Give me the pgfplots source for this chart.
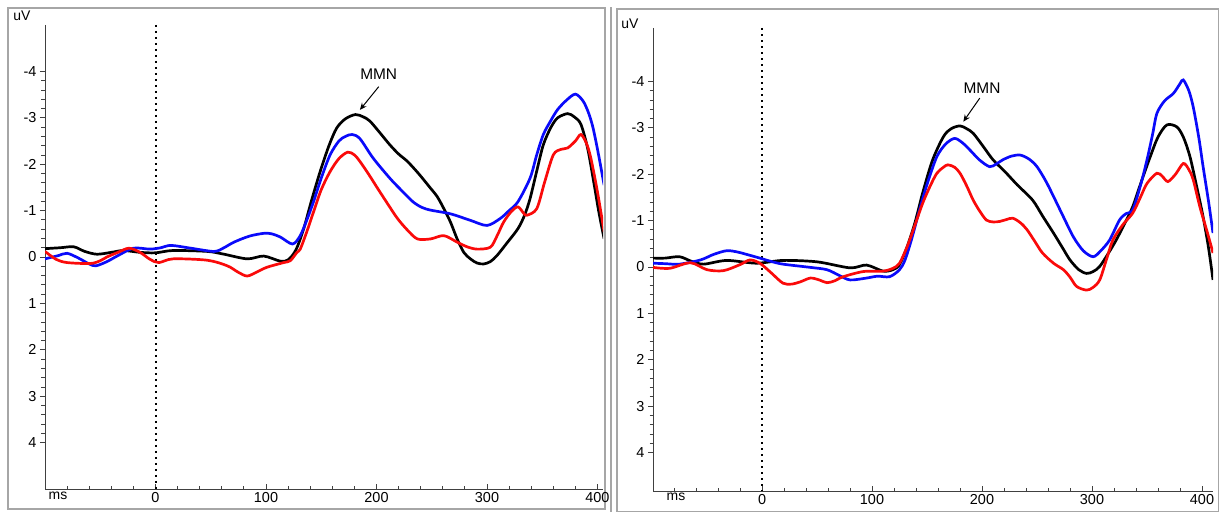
\documentclass[border=0pt]{standalone}
\usepackage{fontspec}
\setmainfont{Liberation Sans}
\usepackage{pgfplots}
\pgfplotsset{compat=1.18}
\usetikzlibrary{arrows.meta}
\definecolor{eegblue}{RGB}{10,10,250}
\definecolor{eegred}{RGB}{250,10,10}
\pgfplotsset{eeg/.style={
  scale only axis,
  axis x line=bottom, axis y line=left,
  axis line style={-, black!75, line width=0.9bp},
  y dir=reverse,
  ytick={-4,-3,...,4}, minor y tick num=4,
  xtick={0,100,200,300,400}, minor xtick={-80,-60,...,400},
  xtick align=inside, ytick align=outside,
  major tick length=5bp, minor tick length=3.5bp,
  every tick/.style={black!75, line width=0.8bp},
  tick label style={font=\fontsize{14.5}{14.5}\selectfont},
  /pgf/number format/assume math mode=true,
  clip=true,
  every axis plot/.append style={line width=2.7bp, smooth, no markers},
}}
\begin{document}
\begin{tikzpicture}
\path[use as bounding box] (0bp,0bp) rectangle (1219bp,512bp);
\draw[black!35, line width=1.2bp] (8bp,3bp) rectangle (605bp,504bp);
\draw[black!35, line width=1.2bp] (617bp,0.6bp) rectangle (1218.4bp,503bp);
\draw[black!35, line width=1.2bp] (611bp,0bp) -- (611bp,505bp);
\node[font=\fontsize{14}{14}\selectfont] at (22bp,496bp) {uV};
\node[font=\fontsize{14}{14}\selectfont] at (58bp,16bp) {ms};
\node[font=\fontsize{14}{14}\selectfont] at (630bp,488bp) {uV};
\node[font=\fontsize{14}{14}\selectfont] at (676bp,15bp) {ms};
% ---------------- left panel
\begin{axis}[eeg, at={(45bp,23bp)}, anchor=south west, width=558bp, height=464bp,
  xmin=-100, xmax=405, ymin=-5, ymax=5]
\draw[black, line width=1.9bp, dash pattern=on 1.9bp off 4.1bp] (axis cs:0.3,-5) -- (axis cs:0.3,5);
\addplot[black] coordinates {(-100,-0.18) (-86,-0.2) (-74,-0.22) (-64,-0.12) (-53,-0.06) (-40,-0.1) (-29,-0.14) (-14,-0.1) (0,-0.09) (16,-0.14) (47,-0.12) (62,-0.06) (83,0.04) (98,-0.02) (113,0.09) (120,0.06) (127,-0.15) (134,-0.6) (141,-1.2) (149,-1.84) (157,-2.4) (164,-2.78) (172,-2.98) (181,-3.07) (188,-3.02) (194,-2.93) (203,-2.68) (212,-2.42) (220,-2.22) (228,-2.06) (238,-1.8) (249,-1.48) (255,-1.3) (261,-1.04) (267,-0.75) (273,-0.39) (279,-0.1) (285,0.04) (291,0.13) (297,0.15) (303,0.1) (309,-0.03) (318,-0.3) (328,-0.61) (334,-0.9) (339,-1.26) (345,-1.85) (351,-2.42) (358,-2.8) (364,-3.0) (373,-3.09) (379,-3.02) (385,-2.86) (391,-2.35) (396,-1.7) (401,-1.0) (406,-0.39)};
\addplot[eegblue] coordinates {(-100,0.04) (-88,-0.03) (-80,-0.08) (-70,0.02) (-60,0.15) (-54,0.19) (-44,0.1) (-34,-0.03) (-20,-0.19) (-5,-0.17) (5,-0.2) (14,-0.25) (32,-0.19) (53,-0.12) (62,-0.2) (71,-0.32) (85,-0.45) (98,-0.51) (105,-0.5) (113,-0.43) (124,-0.28) (131,-0.46) (137,-0.8) (143,-1.19) (150,-1.7) (158,-2.2) (166,-2.5) (172,-2.6) (178,-2.64) (185,-2.55) (197,-2.13) (212,-1.7) (222,-1.45) (233,-1.19) (241,-1.07) (249,-1.01) (267,-0.93) (285,-0.79) (300,-0.68) (312,-0.83) (320,-1.0) (328,-1.19) (339,-1.7) (345,-2.2) (351,-2.64) (358,-2.95) (364,-3.18) (372,-3.38) (380,-3.51) (387,-3.36) (392,-3.1) (396,-2.78) (401,-2.2) (406,-1.55)};
\addplot[eegred] coordinates {(-100,-0.12) (-90,0.05) (-80,0.12) (-59,0.14) (-50,0.08) (-44,0.0) (-34,-0.1) (-24,-0.19) (-14,-0.1) (-5,0.05) (3,0.12) (16,0.04) (47,0.07) (65,0.19) (75,0.33) (83,0.41) (92,0.32) (101,0.22) (116,0.12) (122,0.08) (128,-0.1) (131,-0.17) (137,-0.55) (143,-0.97) (150,-1.45) (158,-1.84) (166,-2.12) (174,-2.26) (180,-2.2) (185,-2.06) (193,-1.78) (201,-1.48) (210,-1.15) (219,-0.83) (228,-0.58) (237,-0.39) (249,-0.39) (261,-0.46) (273,-0.32) (282,-0.22) (291,-0.17) (303,-0.21) (309,-0.45) (315,-0.75) (322,-0.98) (328,-1.08) (333,-0.95) (336,-0.9) (345,-1.04) (352,-1.6) (360,-2.2) (367,-2.32) (373,-2.35) (380,-2.5) (385,-2.64) (390,-2.45) (394,-2.13) (400,-1.4) (406,-0.54)};
\node[font=\fontsize{15.5}{15.5}\selectfont] at (axis cs:202,-3.93) {MMN};
\draw[-{Stealth[length=7bp,width=6bp]}, line width=1bp] (axis cs:202,-3.67) -- (axis cs:185,-3.17);
\end{axis}
% ---------------- right panel
\begin{axis}[eeg, at={(653bp,21bp)}, anchor=south west, width=560bp, height=463bp,
  xmin=-99.1, xmax=410, ymin=-5.15, ymax=4.83]
\draw[black, line width=1.9bp, dash pattern=on 1.9bp off 4.1bp] (axis cs:0,-5.15) -- (axis cs:0,4.83);
\addplot[black] coordinates {(-99,-0.19) (-88,-0.19) (-75,-0.22) (-64,-0.12) (-53,-0.06) (-32,-0.14) (-5,-0.08) (19,-0.14) (50,-0.11) (80,0.02) (95,-0.04) (110,0.09) (119,0.06) (125,-0.05) (132,-0.44) (139,-0.95) (146,-1.59) (155,-2.3) (165,-2.81) (172,-2.98) (180,-3.04) (186,-2.98) (192,-2.88) (201,-2.6) (210,-2.31) (221,-2.05) (232,-1.77) (246,-1.44) (255,-1.1) (265,-0.73) (273,-0.42) (280,-0.15) (288,0.06) (295,0.14) (301,0.1) (307,-0.01) (315,-0.3) (322,-0.58) (330,-0.95) (337,-1.3) (345,-1.85) (353,-2.38) (360,-2.8) (368,-3.06) (377,-3.02) (383,-2.8) (389,-2.38) (395,-1.75) (401,-1.08) (406,-0.4) (410,0.28)};
\addplot[eegblue] coordinates {(-99,-0.08) (-88,-0.07) (-75,-0.06) (-56,-0.15) (-44,-0.27) (-32,-0.35) (-22,-0.32) (-14,-0.27) (-2,-0.19) (8,-0.12) (19,-0.06) (44,0.01) (59,0.06) (70,0.18) (80,0.28) (95,0.24) (105,0.2) (116,0.21) (125,0.06) (130,-0.15) (136,-0.6) (144,-1.3) (151,-1.85) (159,-2.38) (167,-2.65) (175,-2.77) (182,-2.68) (189,-2.52) (198,-2.3) (207,-2.16) (213,-2.22) (219,-2.31) (227,-2.39) (235,-2.41) (243,-2.32) (250,-2.16) (258,-1.85) (265,-1.52) (274,-1.08) (283,-0.65) (292,-0.35) (301,-0.22) (308,-0.35) (316,-0.58) (325,-1.01) (331,-1.15) (337,-1.23) (344,-1.75) (350,-2.31) (355,-2.85) (359,-3.31) (366,-3.58) (374,-3.74) (380,-3.95) (383,-4.03) (388,-3.8) (392,-3.45) (397,-2.8) (401,-2.16) (406,-1.4) (410,-0.73)};
\addplot[eegred] coordinates {(-99,0.01) (-84,0.03) (-65,-0.09) (-50,0.06) (-35,0.08) (-20,-0.05) (-11,-0.15) (-2,-0.08) (8,0.12) (19,0.35) (27,0.37) (35,0.32) (44,0.24) (52,0.28) (59,0.34) (66,0.3) (74,0.21) (92,0.1) (110,0.09) (119,0.03) (125,-0.08) (132,-0.44) (139,-0.9) (146,-1.37) (153,-1.75) (159,-2.02) (165,-2.15) (169,-2.2) (175,-2.15) (180,-2.02) (186,-1.75) (192,-1.44) (198,-1.2) (204,-1.01) (210,-0.97) (216,-0.98) (222,-1.02) (228,-1.05) (235,-0.95) (241,-0.8) (248,-0.55) (255,-0.3) (265,-0.08) (274,0.06) (280,0.22) (286,0.42) (295,0.5) (301,0.44) (307,0.28) (313,-0.15) (319,-0.58) (328,-0.91) (337,-1.16) (344,-1.5) (350,-1.8) (359,-2.02) (364,-1.95) (369,-1.84) (376,-2.0) (383,-2.23) (388,-2.1) (392,-1.88) (398,-1.3) (405,-0.73) (410,-0.3)};
\node[font=\fontsize{15.5}{15.5}\selectfont] at (axis cs:200,-3.86) {MMN};
\draw[-{Stealth[length=7bp,width=6bp]}, line width=1bp] (axis cs:198,-3.64) -- (axis cs:183,-3.13);
\end{axis}
\end{tikzpicture}
\end{document}
